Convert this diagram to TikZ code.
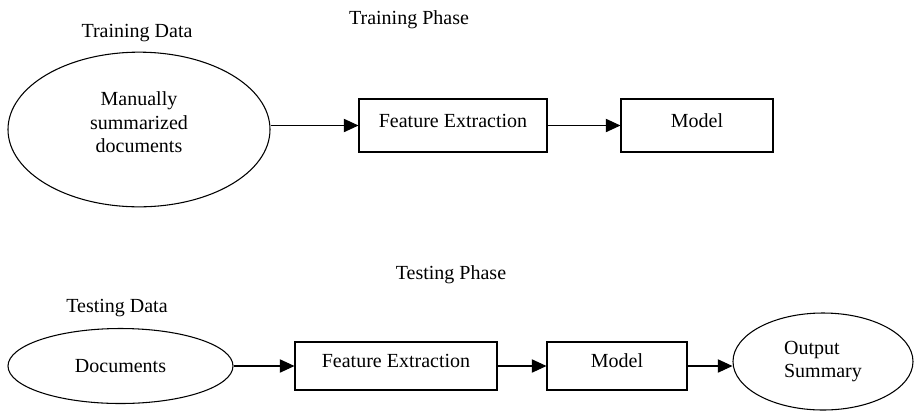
\documentclass[tikz,border=0pt]{standalone}
\usepackage{fontspec}
\setmainfont{Liberation Serif}
\usetikzlibrary{arrows.meta,shapes.geometric}

\begin{document}
\begin{tikzpicture}[x=0.75pt, y=-0.75pt, >={Triangle[length=11pt,width=10pt]},
    font=\rmfamily\fontsize{15}{17.5}\selectfont,
    box/.style={draw, line width=0.8pt, rectangle, inner sep=0pt, text depth=7.5pt,
      font=\rmfamily\fontsize{15}{17.5}\selectfont},
    blob/.style={draw, line width=0.8pt, ellipse, inner sep=0pt, align=center,
      font=\rmfamily\fontsize{15}{17.5}\selectfont},
    flow/.style={->, line width=0.8pt}]

  \useasboundingbox (0,0) rectangle (914,412);

  %%%%%%%%%%%%%%%%%%%%%%%%%%%%%%%%%%%%%%%%%%%%%%%%%
  % Training phase
  \node (trainPhase) at (409,20) {Training Phase};
  \node (trainData) at (137,33) {Training Data};

  \node[blob, minimum width=196.5pt, minimum height=116pt, text depth=11pt] (trainDocs) at (139,129.5)
      {Manually\\summarized\\documents};
  \node[box, minimum width=141pt, minimum height=39.75pt] (feTrain) at (453,125.5)
      {Feature Extraction};
  \node[box, minimum width=114pt, minimum height=39.75pt] (modelTrain) at (697,125.5)
      {Model};

  % Arrows
  \draw[flow] (trainDocs.east |- feTrain.west) -- (feTrain.west);
  \draw[flow] (feTrain) -- (modelTrain);

  %%%%%%%%%%%%%%%%%%%%%%%%%%%%%%%%%%%%%%%%%%%%%%%%%
  % Testing phase
  \node (testPhase) at (451,275) {Testing Phase};
  \node (testData) at (117,308) {Testing Data};

  \node[blob, minimum width=168.75pt, minimum height=56.25pt] (testDocs) at (120.5,366)
      {Documents};
  \node[box, minimum width=151.5pt, minimum height=36pt] (feTest) at (396,366)
      {Feature Extraction};
  \node[box, minimum width=105pt, minimum height=36pt] (modelTest) at (617,366)
      {Model};
  \node[blob, align=left, minimum width=135pt, minimum height=72.75pt] (outSummary) at (823,361.5)
      {Output\\Summary};

  % Arrows
  \draw[flow] (testDocs) -- (feTest);
  \draw[flow] (feTest) -- (modelTest);
  \draw[flow] (modelTest.east) -- (modelTest.east -| outSummary.west);

\end{tikzpicture}
\end{document}
